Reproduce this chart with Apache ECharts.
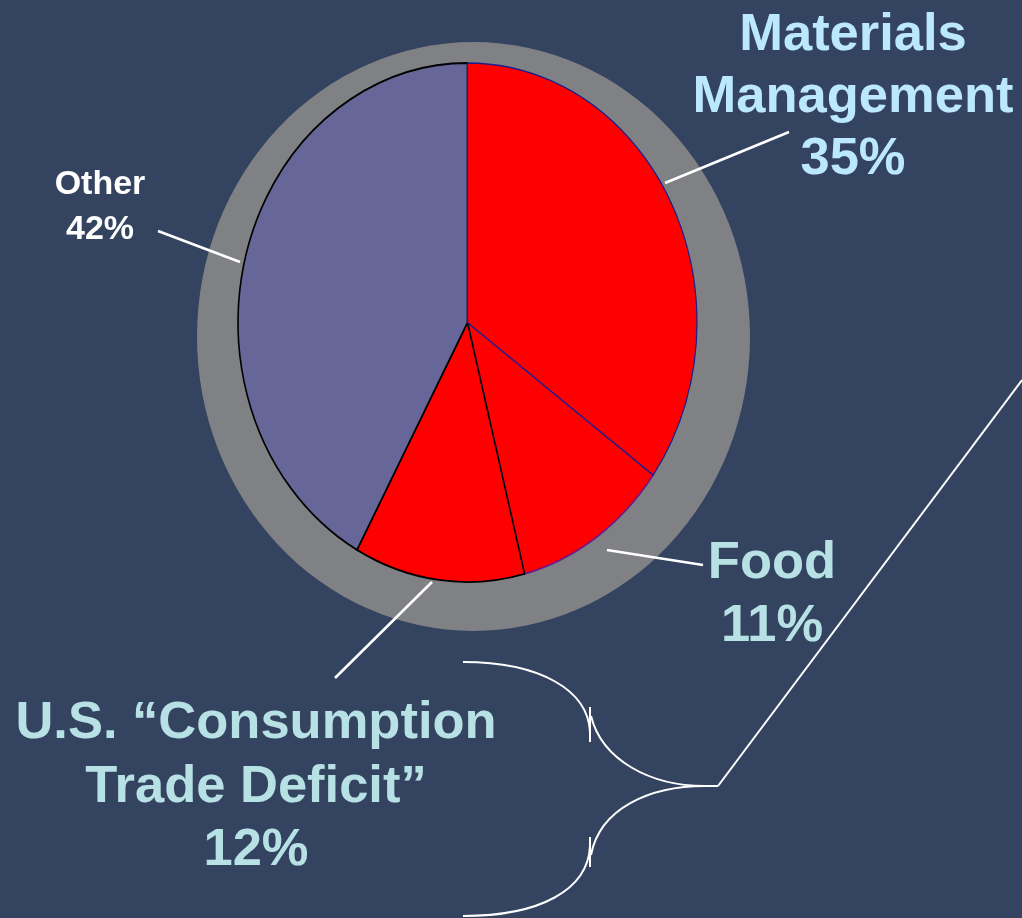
<!DOCTYPE html>
<html>
<head>
<meta charset="utf-8">
<title>Share of total</title>
<script src="https://cdn.jsdelivr.net/npm/echarts@6/dist/echarts.min.js"></script>
<style>
  html, body { margin: 0; padding: 0; background: #334360; }
  #chart { width: 1022px; height: 918px; }
</style>
</head>
<body>
<div id="chart"></div>
<script>
// Slice names and their percentage shares, clockwise from 12 o'clock
const categories = ['Materials\nManagement', 'Food', 'U.S. \u201cConsumption\nTrade Deficit\u201d', 'Other'];
const shares = [35, 11, 12, 42];

// Styling per slice
const sliceColors = ['#ff0000', '#ff0000', '#ff0000', '#666699'];
const sliceStrokes = ['#1c1c8c', '#6a1a8a', '#000000', '#000000'];
const sliceOrder = [4, 1, 2, 3];

// Ellipse geometry of the pie and of the grey rim behind it
const PIE = { cx: 467.5, cy: 322.5, rx: 229.5, ry: 259.5 };
const RIM = { cx: 473.5, cy: 336.5, rx: 276.5, ry: 294.5 };

const total = shares.reduce((a, b) => a + b, 0);

function renderSlice(params, api) {
  const i = params.dataIndex;
  let before = 0;
  for (let k = 0; k < i; k++) before += shares[k];
  const start = -Math.PI / 2 + before / total * Math.PI * 2;
  const end = start + api.value(0) / total * Math.PI * 2;
  return {
    type: 'sector',
    x: PIE.cx,
    y: PIE.cy,
    scaleY: PIE.ry / PIE.rx,
    z2: sliceOrder[i],
    shape: { cx: 0, cy: 0, r0: 0, r: PIE.rx, startAngle: start, endAngle: end, clockwise: true },
    style: {
      fill: sliceColors[i],
      stroke: sliceStrokes[i],
      lineWidth: i === 0 ? 1.2 : 1.6,
      strokeNoScale: true
    }
  };
}

const labelText = (i) => categories[i] + '\n' + shares[i] + '%';
const bigFont = 'bold 52.5px "Liberation Sans", Arial, sans-serif';
const smallFont = 'bold 34px "Liberation Sans", Arial, sans-serif';
const white = '#ffffff';

function label(i, x, y, font, color, lineHeight) {
  return {
    type: 'text', x: x, y: y, z: 20,
    style: { text: labelText(i), font: font, fill: color, align: 'center', verticalAlign: 'top', lineHeight: lineHeight }
  };
}
function seg(x1, y1, x2, y2, w) {
  return { type: 'line', z: 15, shape: { x1, y1, x2, y2 }, style: { stroke: white, lineWidth: w || 2 } };
}
function curve(x1, y1, cpx1, cpy1, cpx2, cpy2, x2, y2) {
  return { type: 'bezierCurve', z: 15, shape: { x1, y1, cpx1, cpy1, cpx2, cpy2, x2, y2 },
           style: { stroke: white, lineWidth: 2, fill: null } };
}

const chart = echarts.init(document.getElementById('chart'), null, { renderer: 'canvas' });
chart.setOption({
  backgroundColor: '#334360',
  animation: false,
  graphic: [
    // grey rim behind the pie
    { type: 'circle', z: 0, x: RIM.cx, y: RIM.cy, scaleY: RIM.ry / RIM.rx,
      shape: { cx: 0, cy: 0, r: RIM.rx }, style: { fill: '#808184' } },

    // slice labels
    label(0, 853, 5, bigFont, '#bce8ff', 62),
    label(1, 772, 532, bigFont, '#b7e1e4', 63),
    label(2, 256, 692, bigFont, '#b7e1e4', 63.5),
    label(3, 100, 162, smallFont, white, 45),

    // leader lines
    seg(665, 183, 789, 132, 2.6),
    seg(607, 550, 703, 565, 2.6),
    seg(432, 582, 335, 678, 2.6),
    seg(240, 262, 158, 231, 2.6),

    // brace grouping the red slices
    curve(463, 662, 540, 662, 588, 690, 590, 732),
    seg(590, 707, 590, 742),
    curve(591, 716, 602, 760, 650, 786, 705, 786),
    curve(705, 786, 650, 786, 600, 808, 591, 855),
    seg(590, 837, 590, 867),
    curve(590, 846, 588, 890, 540, 916, 463, 916),
    seg(703, 786, 718, 786),
    seg(718, 786, 1022, 380)
  ],
  series: [{
    type: 'custom',
    coordinateSystem: 'none',
    z: 5,
    renderItem: renderSlice,
    data: shares.map((v, i) => ({ name: categories[i], value: v }))
  }]
});
</script>
</body>
</html>
